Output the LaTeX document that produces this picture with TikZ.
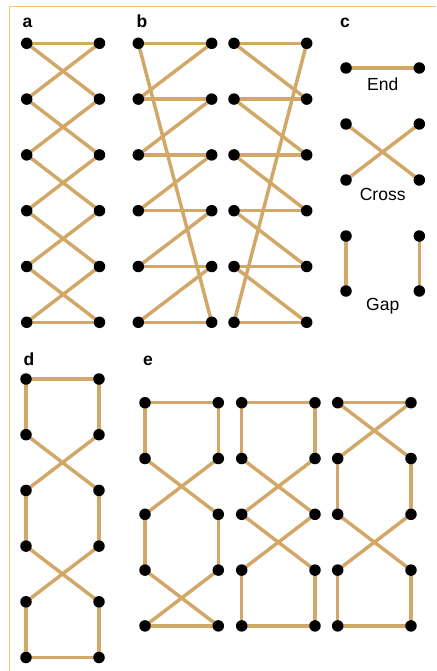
\documentclass[tikz,border=0pt]{standalone}
\usepackage{fontspec}
\setmainfont{Liberation Sans}
\pgfdeclarelayer{bg}
\pgfsetlayers{bg,main}
\definecolor{rope}{RGB}{210,168,104}
\definecolor{rule}{RGB}{246,196,112}
\tikzset{
  dot/.style={circle,fill=black,inner sep=0pt,minimum size=11.5pt},
  bar/.style={draw=rope,line width=3.5pt},
  tag/.style={font=\bfseries\fontsize{17.5}{17.5}\selectfont,anchor=base},
  legendtext/.style={font=\fontsize{17.5}{17.5}\selectfont,anchor=base},
}
\begin{document}
\begin{tikzpicture}[x=1pt,y=-1pt]
\useasboundingbox (0,0) rectangle (436,671);
% frame rule
\draw[rule,line width=1.5pt] (436,6.7) -- (9.3,6.7) -- (9.3,671);

% panel labels
\node[tag] (la) at (27.5,27.3) {a};
\node[tag] (lb) at (142,27.5) {b};
\node[tag] (lc) at (345,27.3) {c};
\node[tag] (ld) at (29,365) {d};
\node[tag] (le) at (148,365) {e};

% ---- dots ----
\foreach \i in {1,...,6} {
  \pgfmathsetmacro\yy{43.3+55.8*(\i-1)}
  \node[dot] (aL\i) at (26.7,\yy) {};
  \node[dot] (aR\i) at (99.5,\yy) {};
  \node[dot] (pL\i) at (138.3,\yy) {};
  \node[dot] (pR\i) at (211.7,\yy) {};
  \node[dot] (qL\i) at (234,\yy) {};
  \node[dot] (qR\i) at (306.7,\yy) {};
  \pgfmathsetmacro\yd{379+55.7*(\i-1)}
  \node[dot] (dL\i) at (26,\yd) {};
  \node[dot] (dR\i) at (99,\yd) {};
}
\foreach \i in {1,...,5} {
  \pgfmathsetmacro\ye{402.7+55.8*(\i-1)}
  \node[dot] (uL\i) at (145,\ye) {};
  \node[dot] (uR\i) at (218.3,\ye) {};
  \node[dot] (vL\i) at (241.7,\ye) {};
  \node[dot] (vR\i) at (315,\ye) {};
  \node[dot] (wL\i) at (337.7,\ye) {};
  \node[dot] (wR\i) at (411,\ye) {};
}
% legend dots
\node[dot] (eL) at (346,68) {};
\node[dot] (eR) at (419.3,68) {};
\node[dot] (cL1) at (346,124) {};
\node[dot] (cR1) at (419.3,124) {};
\node[dot] (cL2) at (346,180) {};
\node[dot] (cR2) at (419.3,180) {};
\node[dot] (gL1) at (346,236) {};
\node[dot] (gR1) at (419.3,236) {};
\node[dot] (gL2) at (346,291) {};
\node[dot] (gR2) at (419.3,291) {};

% legend captions
\node[legendtext] (tEnd) at (382.7,91) {End};
\node[legendtext] (tCross) at (382.7,200.7) {Cross};
\node[legendtext] (tGap) at (382.7,310.7) {Gap};

% ---- connectors ----
\begin{pgfonlayer}{bg}
% a: zig-zag lacing
\draw[bar] (aL1.center) -- (aR1.center) (aL6.center) -- (aR6.center);
\foreach \i/\j in {1/2,2/3,3/4,4/5,5/6}
  \draw[bar] (aL\i.center) -- (aR\j.center) (aR\i.center) -- (aL\j.center);
% b: two ladders with a long diagonal
\foreach \i in {1,...,6}
  \draw[bar] (pL\i.center) -- (pR\i.center) (qL\i.center) -- (qR\i.center);
\foreach \i/\j in {1/2,2/3,3/4,4/5,5/6}
  \draw[bar] (pR\i.center) -- (pL\j.center) (qL\i.center) -- (qR\j.center);
\draw[bar] (pL1.center) -- (pR6.center);
\draw[bar] (qR1.center) -- (qL6.center);
% c: legend
\draw[bar] (eL.center) -- (eR.center);
\draw[bar] (cL1.center) -- (cR2.center) (cR1.center) -- (cL2.center);
\draw[bar] (gL1.center) -- (gL2.center) (gR1.center) -- (gR2.center);
% d
\draw[bar] (dL1.center) -- (dR1.center) (dL6.center) -- (dR6.center);
\foreach \i/\j in {1/2,3/4,5/6}
  \draw[bar] (dL\i.center) -- (dL\j.center) (dR\i.center) -- (dR\j.center);
\foreach \i/\j in {2/3,4/5}
  \draw[bar] (dL\i.center) -- (dR\j.center) (dR\i.center) -- (dL\j.center);
% e, first
\draw[bar] (uL1.center) -- (uR1.center) (uL5.center) -- (uR5.center);
\foreach \i/\j in {1/2,3/4}
  \draw[bar] (uL\i.center) -- (uL\j.center) (uR\i.center) -- (uR\j.center);
\foreach \i/\j in {2/3,4/5}
  \draw[bar] (uL\i.center) -- (uR\j.center) (uR\i.center) -- (uL\j.center);
% e, second
\draw[bar] (vL1.center) -- (vR1.center) (vL5.center) -- (vR5.center);
\foreach \i/\j in {1/2,4/5}
  \draw[bar] (vL\i.center) -- (vL\j.center) (vR\i.center) -- (vR\j.center);
\foreach \i/\j in {2/3,3/4}
  \draw[bar] (vL\i.center) -- (vR\j.center) (vR\i.center) -- (vL\j.center);
% e, third
\draw[bar] (wL1.center) -- (wR1.center) (wL5.center) -- (wR5.center);
\foreach \i/\j in {2/3,4/5}
  \draw[bar] (wL\i.center) -- (wL\j.center) (wR\i.center) -- (wR\j.center);
\foreach \i/\j in {1/2,3/4}
  \draw[bar] (wL\i.center) -- (wR\j.center) (wR\i.center) -- (wL\j.center);
\end{pgfonlayer}
\end{tikzpicture}
\end{document}
